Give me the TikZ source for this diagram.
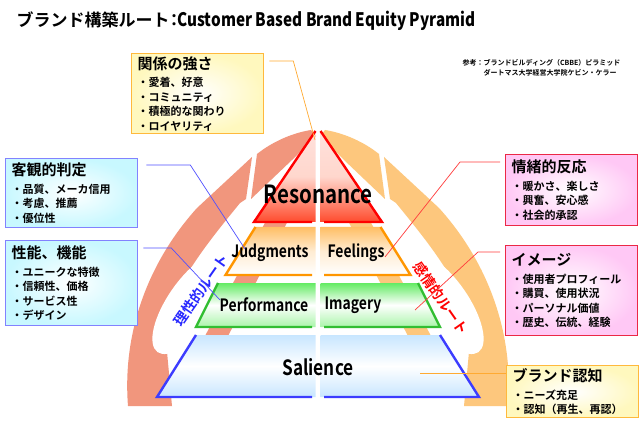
\documentclass[tikz,border=0pt]{standalone}
\usepackage{fontspec}
\setmainfont{Noto Sans CJK JP}[BoldFont={Noto Sans CJK JP Bold}]
\newfontfamily\condfont{Noto Sans CJK JP}[FakeStretch=0.85]
\newfontfamily\condbold{Noto Sans CJK JP Bold}[FakeStretch=0.82]
\usepackage{tikz}
\usetikzlibrary{calc,positioning}
\definecolor{lroute}{RGB}{241,150,125}
\definecolor{rroute}{RGB}{253,199,125}
\definecolor{lrtext}{RGB}{40,40,255}
\definecolor{rrtext}{RGB}{255,0,0}
\definecolor{resedge}{RGB}{255,0,0}
\definecolor{restop}{RGB}{255,225,220}
\definecolor{resmid}{RGB}{255,215,205}
\definecolor{resbot}{RGB}{255,75,45}
\definecolor{judedge}{RGB}{255,150,0}
\definecolor{judtop}{RGB}{255,190,100}
\definecolor{judmid}{RGB}{255,236,210}
\definecolor{perfedge}{RGB}{50,190,50}
\definecolor{perftop}{RGB}{100,235,100}
\definecolor{perfbot}{RGB}{170,245,170}
\definecolor{saledge}{RGB}{60,60,255}
\definecolor{saltop}{RGB}{200,230,255}
\definecolor{ylwfill}{RGB}{255,248,190}
\definecolor{ylwedge}{RGB}{255,185,60}
\definecolor{cyanfill}{RGB}{200,248,255}
\definecolor{cyanedge}{RGB}{130,130,255}
\definecolor{pinkfill}{RGB}{255,200,245}
\definecolor{pinkedge}{RGB}{235,40,70}
\definecolor{blueline}{RGB}{80,80,255}
\definecolor{redline}{RGB}{255,60,60}
\definecolor{orgline}{RGB}{255,170,50}
\tikzset{
  infobox/.style={rectangle, draw=#1, line width=1.3pt, anchor=north west,
    inner xsep=6pt, inner ysep=1pt, align=left, text width=120pt,
    minimum width=132pt, font=\bfseries\fontsize{11}{14.5}\selectfont},
  ylwbox/.style={infobox=ylwedge, inner color=white, outer color=ylwfill},
  cyanbox/.style={infobox=cyanedge, inner color=white, outer color=cyanfill},
  pinkbox/.style={infobox=pinkedge, inner color=white, outer color=pinkfill},
  tierlab/.style={font=\condbold\fontsize{17}{20}\selectfont},
  routelab/.style={font=\bfseries\fontsize{14}{14}\selectfont},
  conn/.style={line width=0.7pt}
}
\newcommand\boxtitle[1]{{\fontsize{15}{17}\selectfont #1}}
\newcommand\routeshape[1]{%
  % band behind the pyramid, seen between the tiers
  \fill[#1] (205,336) -- (228,336) -- (290,217) -- (268,217) -- cycle;
  % band and head
  \fill[#1] (128,406) .. controls (122,330) and (150,260) .. (197,208)
    -- (252,157) -- (246,199) -- (240,203)
    .. controls (210,240) and (172,285) .. (165,330) -- (172,406) -- cycle;
  % end piece over the top
  \fill[#1] (257,154) .. controls (272,142) and (292,133) .. (311,130)
    -- (316,136) -- (292,160) -- (251,199) -- cycle;
  \fill[white, rotate around={55:(192,303)}] (192,303) ellipse (60 and 24);
}

\begin{document}
\begin{tikzpicture}[x=1pt,y=-1pt]
\useasboundingbox (0,0) rectangle (640,422);
\fill[white] (0,0) rectangle (640,422);

% title and reference
\node[anchor=west, font=\bfseries\fontsize{17}{20}\selectfont] (title) at (13,21)
  {ブランド構築ルート\kern-4pt：\kern-5pt{\condbold\fontsize{18.6}{20}\selectfont Customer Based Brand Equity Pyramid}};
\node[anchor=north west, align=left, font=\bfseries\fontsize{7}{9.5}\selectfont] (ref) at (459,56)
  {参考：ブランドビルディング（CBBE）ピラミッド\\\hspace{21pt}ダートマス大学経営大学院ケビン・ケラー};

% the two routes
\routeshape{lroute}
\begin{scope}[shift={(636,0)}, xscale=-1]
\routeshape{rroute}
\end{scope}

% pyramid, left and right halves
\foreach \yt/\yb/\wt/\wb/\edge/\ctop/\cmid/\cbot in {
  131/222/2.5/64/resedge/restop/resmid/resbot,
  227/275/62.5/92.5/judedge/judtop/judmid/white,
  283/327/100/122/perfedge/perftop/white/perfbot,
  335/397/122/161/saledge/saltop/white/saltop}
{
  \shade[top color=\ctop, bottom color=\cbot, middle color=\cmid]
    (315.5,\yt) -- ({318-\wt},\yt) -- ({318-\wb},\yb) -- (315.5,\yb) -- cycle;
  \shade[top color=\ctop, bottom color=\cbot, middle color=\cmid]
    (320.5,\yt) -- ({318+\wt},\yt) -- ({318+\wb},\yb) -- (320.5,\yb) -- cycle;
  \draw[\edge, line width=2.4pt, line join=miter]
    ({318-\wt},\yt) -- ({318-\wb},\yb) -- (312,\yb);
  \draw[\edge, line width=2.4pt, line join=miter]
    ({318+\wt},\yt) -- ({318+\wb},\yb) -- (324,\yb);
}

\node[tierlab, font=\condbold\fontsize{25}{28}\selectfont] (res) at (318,194) {Resonance};
\node[tierlab] (judg) at (270,253) {Judgments};
\node[tierlab] (feel) at (356,253) {Feelings};
\node[tierlab] (perf) at (264,305) {Performance};
\node[tierlab] (imag) at (353,305) {Imagery};
\node[tierlab, font=\condbold\fontsize{21}{24}\selectfont] (sal) at (318,367) {Salience};

\node[routelab, text=lrtext, rotate=55] (ratio) at (201,290) {理性的ルート};
\node[routelab, text=rrtext, rotate=-55] (emot) at (441,298) {感情的ルート};

% boxes
\node[ylwbox, minimum height=80pt] (rel) at (131,53)
  {\boxtitle{関係の強さ}\\[3pt]・愛着、好意\\・コミュニティ\\・積極的な関わり\\・ロイヤリティ};
\node[cyanbox, minimum height=69pt] (obj) at (5,158)
  {\boxtitle{客観的判定}\\[3pt]・品質、メーカ信用\\・考慮、推薦\\・優位性};
\node[cyanbox, minimum height=85pt] (func) at (5,240)
  {\boxtitle{性能、機能}\\[3pt]・ユニークな特徴\\・信頼性、価格\\・サービス性\\・デザイン};
\node[pinkbox, minimum height=71pt] (emo) at (505,154)
  {\boxtitle{情緒的反応}\\[3pt]・暖かさ、楽しさ\\・興奮、安心感\\・社会的承認};
\node[pinkbox, minimum height=90pt] (img) at (505,245)
  {\boxtitle{イメージ}\\[3pt]・使用者プロフィール\\・購買、使用状況\\・パーソナル価値\\・歴史、伝統、経験};
\node[ylwbox, minimum height=52pt] (aware) at (506,365)
  {\boxtitle{ブランド認知}\\[3pt]・ニーズ充足\\・認知（再生、再認）};

% connectors
\coordinate (resTip) at (315,140);
\coordinate (judgTip) at (245,249);
\coordinate (perfTip) at (220,300);
\coordinate (feelTip) at (385,257);
\coordinate (imagTip) at (415,310);
\coordinate (salTip) at (420,373);
\draw[conn, orgline] ($(rel.north east)+(5,8)$) -- ++(24,0) -- (resTip);
\draw[conn, blueline] ($(obj.north east)+(8,7)$) -- ++(44,0) -- (judgTip);
\draw[conn, blueline] ($(func.north east)+(5,8)$) -- ++(28,0) -- (perfTip);
\draw[conn, redline] ($(emo.north west)+(-5,8)$) -- ++(-40,0) -- (feelTip);
\draw[conn, redline] ($(img.north west)+(-5,7)$) -- ++(-22,0) -- (imagTip);
\draw[conn, orgline] ($(aware.north west)+(0,8)$) -- (salTip);
\end{tikzpicture}
\end{document}
